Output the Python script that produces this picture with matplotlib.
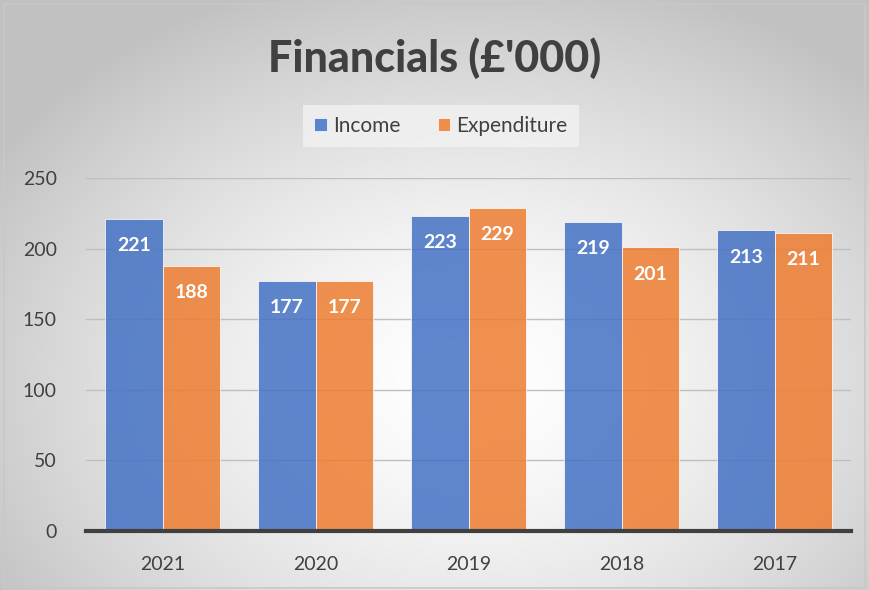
import numpy as np
import matplotlib
matplotlib.use("Agg")
import matplotlib.pyplot as plt
from matplotlib.patches import Rectangle

categories = ["2021", "2020", "2019", "2018", "2017"]
income = [221, 177, 223, 219, 213]
expenditure = [188, 177, 229, 201, 211]
yticks = [0, 50, 100, 150, 200, 250]
title = "Financials (£'000)"

plt.rcParams['font.family'] = ['Lato', 'DejaVu Sans']

W, H = 869, 590
fig = plt.figure(figsize=(W/100, H/100), dpi=100)

# radial gradient background
bg = fig.add_axes([0, 0, 1, 1], zorder=0)
yy, xx = np.mgrid[0:H, 0:W]
cx, cy = 470, 380
r = np.sqrt(((xx - cx) / 560.0) ** 2 + ((yy - cy) / 420.0) ** 2)
r = np.clip(r, 0, 1)
val = 1.0 - 0.24 * r ** 1.5
img = np.dstack([val, val, val])
bg.imshow(img, extent=[0, W, H, 0], aspect='auto')
bg.add_patch(Rectangle((4, 4), W - 8, H - 6, fill=False, ec='#c8c8c8', lw=1.2))
bg.set_xlim(0, W); bg.set_ylim(H, 0)
bg.axis('off')

# plot area: x 86..851, y 178 (250) .. 531 (0)
ax = fig.add_axes([86/W, 1 - 531/H, (851-86)/W, (531-178)/H], zorder=1)
ax.patch.set_alpha(0)
x = np.arange(len(categories))
bw = 0.375
b1 = ax.bar(x - bw/2, income, bw, color='#4472C4', alpha=0.85, ec='white', lw=0.6, label='Income', zorder=2)
b2 = ax.bar(x + bw/2, expenditure, bw, color='#ED7D31', alpha=0.85, ec='white', lw=0.6, label='Expenditure', zorder=2)
for bars, vals in ((b1, income), (b2, expenditure)):
    for rect, v in zip(bars, vals):
        ax.text(rect.get_x() + rect.get_width()/2, v - 13, str(v), ha='center', va='top',
                color='white', fontsize=14, fontweight='bold', zorder=3)

ax.set_xlim(-0.5, len(categories) - 0.5)
ax.set_ylim(0, 250)
ax.set_yticks(yticks)
ax.set_xticks(x)
ax.set_xticklabels(categories)
ax.grid(axis='y', color='#bfbfbf', lw=1, zorder=1)
ax.set_axisbelow(True)
for s in ['top', 'right', 'left']:
    ax.spines[s].set_visible(False)
ax.spines['bottom'].set_color('#404040')
ax.spines['bottom'].set_linewidth(3)
ax.spines['bottom'].set_zorder(4)
ax.tick_params(axis='both', length=0, labelsize=14, colors='#404040')
ax.tick_params(axis='x', pad=18)
ax.tick_params(axis='y', pad=21)

fig.text(0.5, 1 - 58/H, title, ha='center', va='center', fontsize=31, fontweight='black', color='#404040')

leg = fig.legend(handles=[b1, b2], loc='center', bbox_to_anchor=(441/W, 1 - 126/H), ncol=2,
                 frameon=True, fontsize=15, handlelength=0.6, handleheight=0.6,
                 handletextpad=0.3, columnspacing=1.8, borderpad=0.55, labelcolor='#404040')
leg.get_frame().set_facecolor('#f2f2f2')
leg.get_frame().set_edgecolor('none')
leg.get_frame().set_alpha(0.8)
leg.get_frame().set_boxstyle('square', pad=0)

fig.savefig('out.png', dpi=100)
